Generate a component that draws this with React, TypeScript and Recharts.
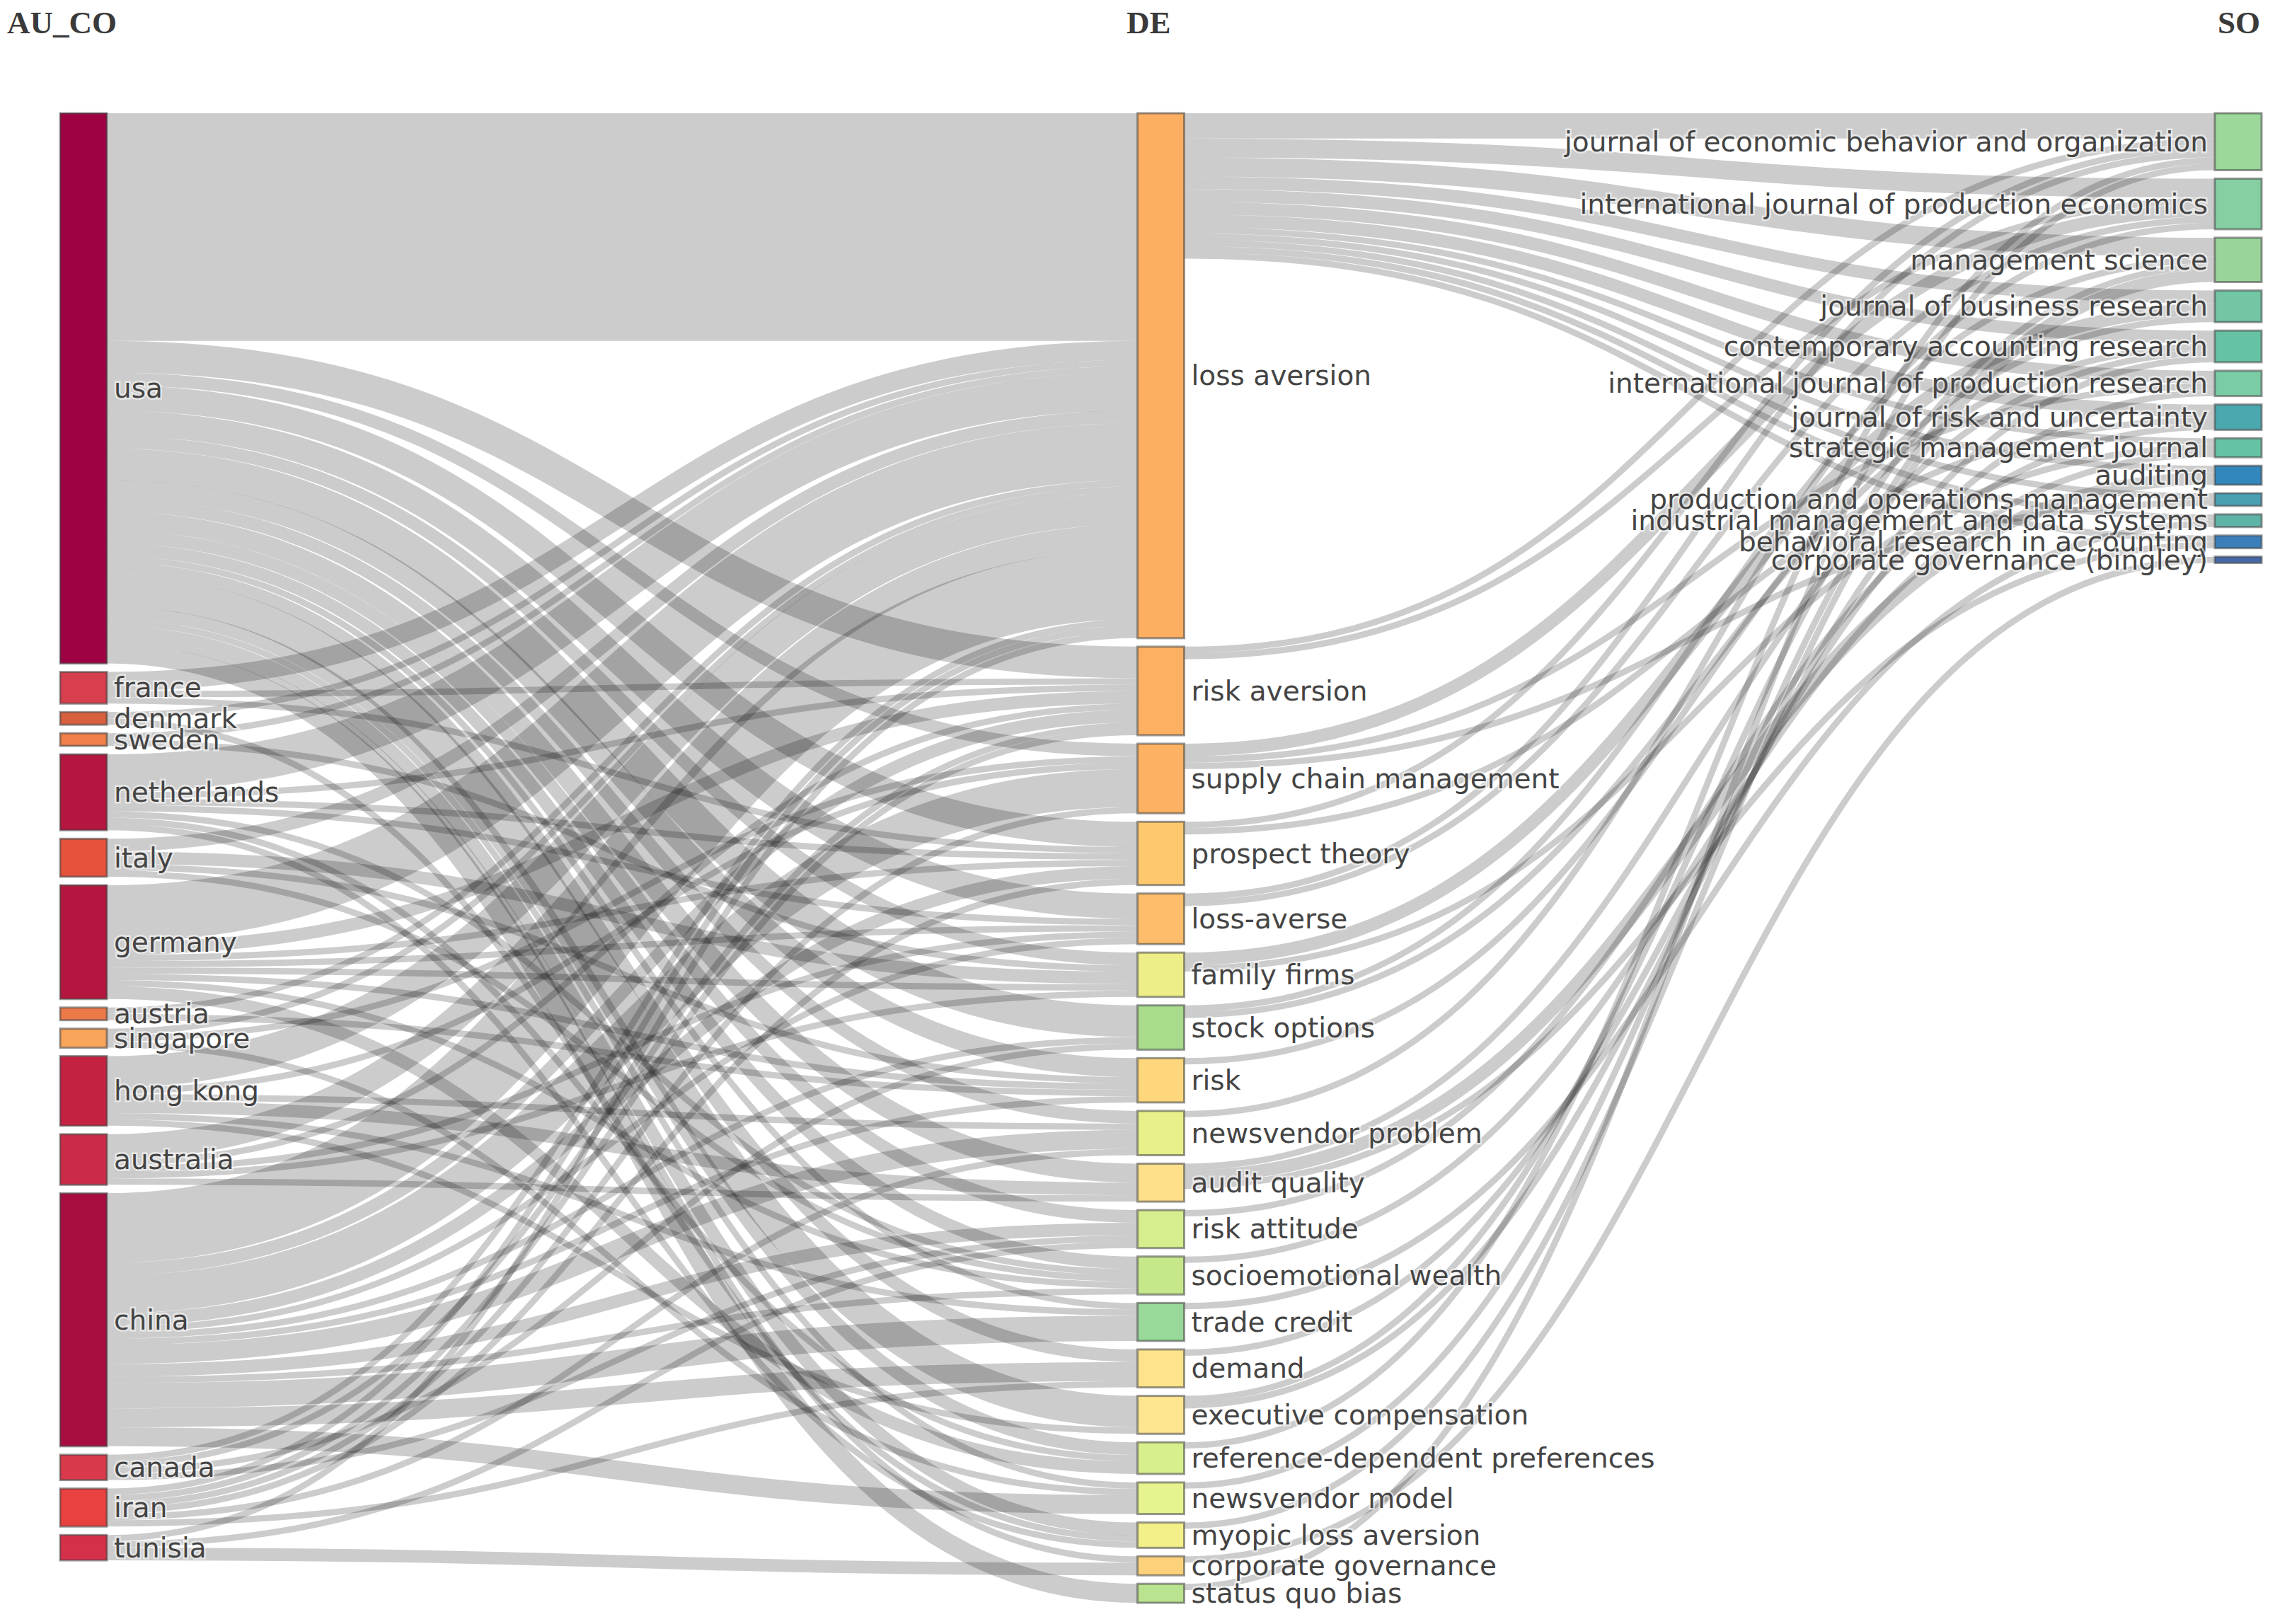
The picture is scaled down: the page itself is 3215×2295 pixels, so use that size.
import React from "react";
import { Sankey } from "recharts";

// column 1: author countries
const countries = [
  "usa", "france", "denmark", "sweden", "netherlands", "italy", "germany", "austria",
  "singapore", "hong kong", "australia", "china", "canada", "iran", "tunisia",
];
const countryColors = [
  "#9e0142", "#d73f4e", "#d8603f", "#f0804a", "#b4163f", "#e5533d", "#b3173f", "#ec7a48",
  "#f9a55b", "#c52242", "#cc2b47", "#a80d3f", "#d9394a", "#e8413f", "#d5304a",
];

// column 2: author keywords
const keywords = [
  "loss aversion", "risk aversion", "supply chain management", "prospect theory", "loss-averse",
  "family firms", "stock options", "risk", "newsvendor problem", "audit quality", "risk attitude",
  "socioemotional wealth", "trade credit", "demand", "executive compensation",
  "reference-dependent preferences", "newsvendor model", "myopic loss aversion",
  "corporate governance", "status quo bias",
];
const keywordColors = [
  "#fdae61", "#fdb062", "#fdb263", "#fec96e", "#fdbd6a", "#eeee88", "#a8dc8c", "#fed67b",
  "#e8f08a", "#fee08b", "#d6ee8d", "#c6e88b", "#98d898", "#fde38b", "#fee690", "#d8ef8d",
  "#e6f38e", "#f3f08a", "#fdd27b", "#b9e38e",
];

// column 3: sources
const journals = [
  "journal of economic behavior and organization",
  "international journal of production economics",
  "management science",
  "journal of business research",
  "contemporary accounting research",
  "international journal of production research",
  "journal of risk and uncertainty",
  "strategic management journal",
  "auditing",
  "production and operations management",
  "industrial management and data systems",
  "behavioral research in accounting",
  "corporate governance (bingley)",
];
const journalColors = [
  "#9bd89a", "#86cfa3", "#99d59a", "#72c6a4", "#66c2a5", "#7acca5", "#4aa8ae",
  "#66c2a5", "#3288bd", "#4a9fb3", "#5fb4a8", "#3b7fba", "#4568a8",
];

// country -> keyword counts (rows: countries, cols: keywords)
const countryKeyword = [
  [36, 5, 2, 4, 4, 2, 5, 3, 2, 3, 2, 2, 1, 2, 5, 2, 1, 2, 1, 3],
  [3, 1, 0, 1, 0, 0, 0, 0, 0, 0, 0, 0, 0, 0, 0, 0, 0, 0, 0, 0],
  [1, 0, 0, 0, 0, 0, 0, 0, 0, 0, 0, 0, 0, 0, 0, 0, 0, 1, 0, 0],
  [1, 0, 0, 0, 0, 1, 0, 0, 0, 0, 0, 0, 0, 0, 0, 0, 0, 0, 0, 0],
  [6, 1, 0, 1, 1, 0, 0, 0, 0, 0, 0, 1, 0, 0, 0, 1, 0, 1, 0, 0],
  [2, 0, 0, 0, 0, 2, 0, 1, 0, 0, 0, 1, 0, 0, 0, 0, 0, 0, 0, 0],
  [9, 2, 0, 1, 1, 1, 0, 1, 0, 0, 0, 1, 0, 0, 0, 2, 0, 0, 0, 0],
  [1, 0, 0, 0, 0, 0, 0, 1, 0, 0, 0, 0, 0, 0, 0, 0, 0, 0, 0, 0],
  [1, 0, 1, 0, 0, 0, 0, 0, 0, 0, 0, 0, 0, 0, 0, 0, 1, 0, 0, 0],
  [5, 0, 1, 0, 0, 0, 0, 0, 1, 2, 0, 0, 1, 0, 1, 0, 0, 0, 0, 0],
  [4, 1, 0, 0, 1, 1, 0, 0, 0, 1, 0, 0, 0, 0, 0, 0, 0, 0, 0, 0],
  [11, 2, 6, 2, 1, 0, 1, 1, 3, 0, 2, 1, 4, 3, 0, 0, 3, 0, 0, 0],
  [1, 1, 0, 0, 0, 0, 1, 0, 0, 0, 1, 0, 0, 0, 0, 0, 0, 0, 0, 0],
  [1, 1, 1, 1, 0, 0, 0, 0, 1, 0, 0, 0, 0, 1, 0, 0, 0, 0, 0, 0],
  [1, 0, 0, 0, 0, 0, 0, 0, 0, 0, 1, 0, 0, 0, 0, 0, 0, 0, 2, 0],
];

// keyword -> journal counts (rows: keywords, cols: journals)
const keywordJournal = [
  [4, 3, 3, 2, 2, 2, 2, 1, 1, 1, 1, 1, 0],
  [1, 1, 0, 0, 0, 0, 0, 0, 0, 0, 0, 0, 0],
  [0, 2, 0, 0, 0, 1, 0, 0, 0, 1, 0, 0, 0],
  [1, 0, 0, 0, 0, 0, 1, 0, 0, 0, 0, 0, 0],
  [1, 1, 0, 0, 0, 0, 0, 0, 0, 0, 0, 0, 0],
  [0, 0, 0, 2, 0, 0, 0, 1, 0, 0, 0, 0, 0],
  [0, 0, 1, 0, 1, 0, 0, 0, 0, 0, 0, 0, 0],
  [0, 0, 0, 1, 0, 0, 0, 0, 0, 0, 0, 0, 0],
  [0, 1, 0, 0, 0, 0, 0, 0, 0, 0, 0, 0, 0],
  [0, 0, 0, 0, 1, 0, 0, 0, 2, 0, 0, 1, 0],
  [0, 0, 0, 0, 0, 0, 1, 0, 0, 0, 0, 0, 0],
  [0, 0, 0, 0, 0, 0, 0, 1, 0, 0, 0, 0, 0],
  [0, 0, 0, 0, 0, 0, 0, 0, 0, 0, 1, 0, 0],
  [0, 0, 0, 0, 0, 1, 0, 0, 0, 0, 0, 0, 0],
  [0, 0, 1, 0, 1, 0, 0, 0, 0, 0, 0, 0, 0],
  [1, 0, 0, 0, 0, 0, 0, 0, 0, 0, 0, 0, 0],
  [0, 0, 1, 0, 0, 0, 0, 0, 0, 0, 0, 0, 0],
  [0, 0, 1, 0, 0, 0, 0, 0, 0, 0, 0, 0, 0],
  [0, 0, 0, 0, 0, 0, 0, 0, 0, 0, 0, 0, 1],
  [1, 0, 0, 0, 0, 0, 0, 0, 0, 0, 0, 0, 0],
];

const fieldTitles = ["AU_CO", "DE", "SO"];

const nodeNames = [...countries, ...keywords, ...journals];
const nodeColors = [...countryColors, ...keywordColors, ...journalColors];
const midStart = countries.length;
const rightStart = countries.length + keywords.length;

const links: { source: number; target: number; value: number }[] = [];
countryKeyword.forEach((row, i) =>
  row.forEach((v, j) => {
    if (v > 0) links.push({ source: i, target: midStart + j, value: v });
  })
);
keywordJournal.forEach((row, i) =>
  row.forEach((v, j) => {
    if (v > 0) links.push({ source: midStart + i, target: rightStart + j, value: v });
  })
);

const data = { nodes: nodeNames.map((name) => ({ name })), links };

function NodeShape(props: any) {
  const { x, y, width, height, index } = props;
  const right = index >= rightStart;
  return (
    <g>
      <rect
        x={x}
        y={y}
        width={width}
        height={height}
        fill={nodeColors[index]}
        stroke="#444"
        strokeOpacity={0.55}
        strokeWidth={3}
      />
      <text
        x={right ? x - 10 : x + width + 10}
        y={y + height / 2}
        textAnchor={right ? "end" : "start"}
        dominantBaseline="central"
        fontFamily="DejaVu Sans"
        fontSize={39}
        fill="#444"
        stroke="#fff"
        strokeOpacity={0.55}
        strokeWidth={5}
        paintOrder="stroke"
      >
        {nodeNames[index]}
      </text>
    </g>
  );
}

export default function App() {
  return (
    <div style={{ position: "relative", width: 3215, height: 2295, background: "#fff" }}>
      <style>{`body{margin:0}`}</style>
      <Sankey
        width={3215}
        height={2295}
        data={data}
        margin={{ top: 160, left: 85, right: 19, bottom: 30 }}
        nodeWidth={66}
        nodePadding={12}
        iterations={0}
        sort={false}
        linkCurvature={0.5}
        node={NodeShape}
        link={{ stroke: "#000", strokeOpacity: 0.2 }}
      />
      <svg
        width={3215}
        height={80}
        style={{ position: "absolute", left: 0, top: 0, pointerEvents: "none" }}
      >
        <g fontFamily="Liberation Serif" fontWeight="bold" fontSize={45} fill="#3a3a3a">
          <text x={10} y={47}>{fieldTitles[0]}</text>
          <text x={1592} y={47}>{fieldTitles[1]}</text>
          <text x={3194} y={47} textAnchor="end">{fieldTitles[2]}</text>
        </g>
      </svg>
    </div>
  );
}
